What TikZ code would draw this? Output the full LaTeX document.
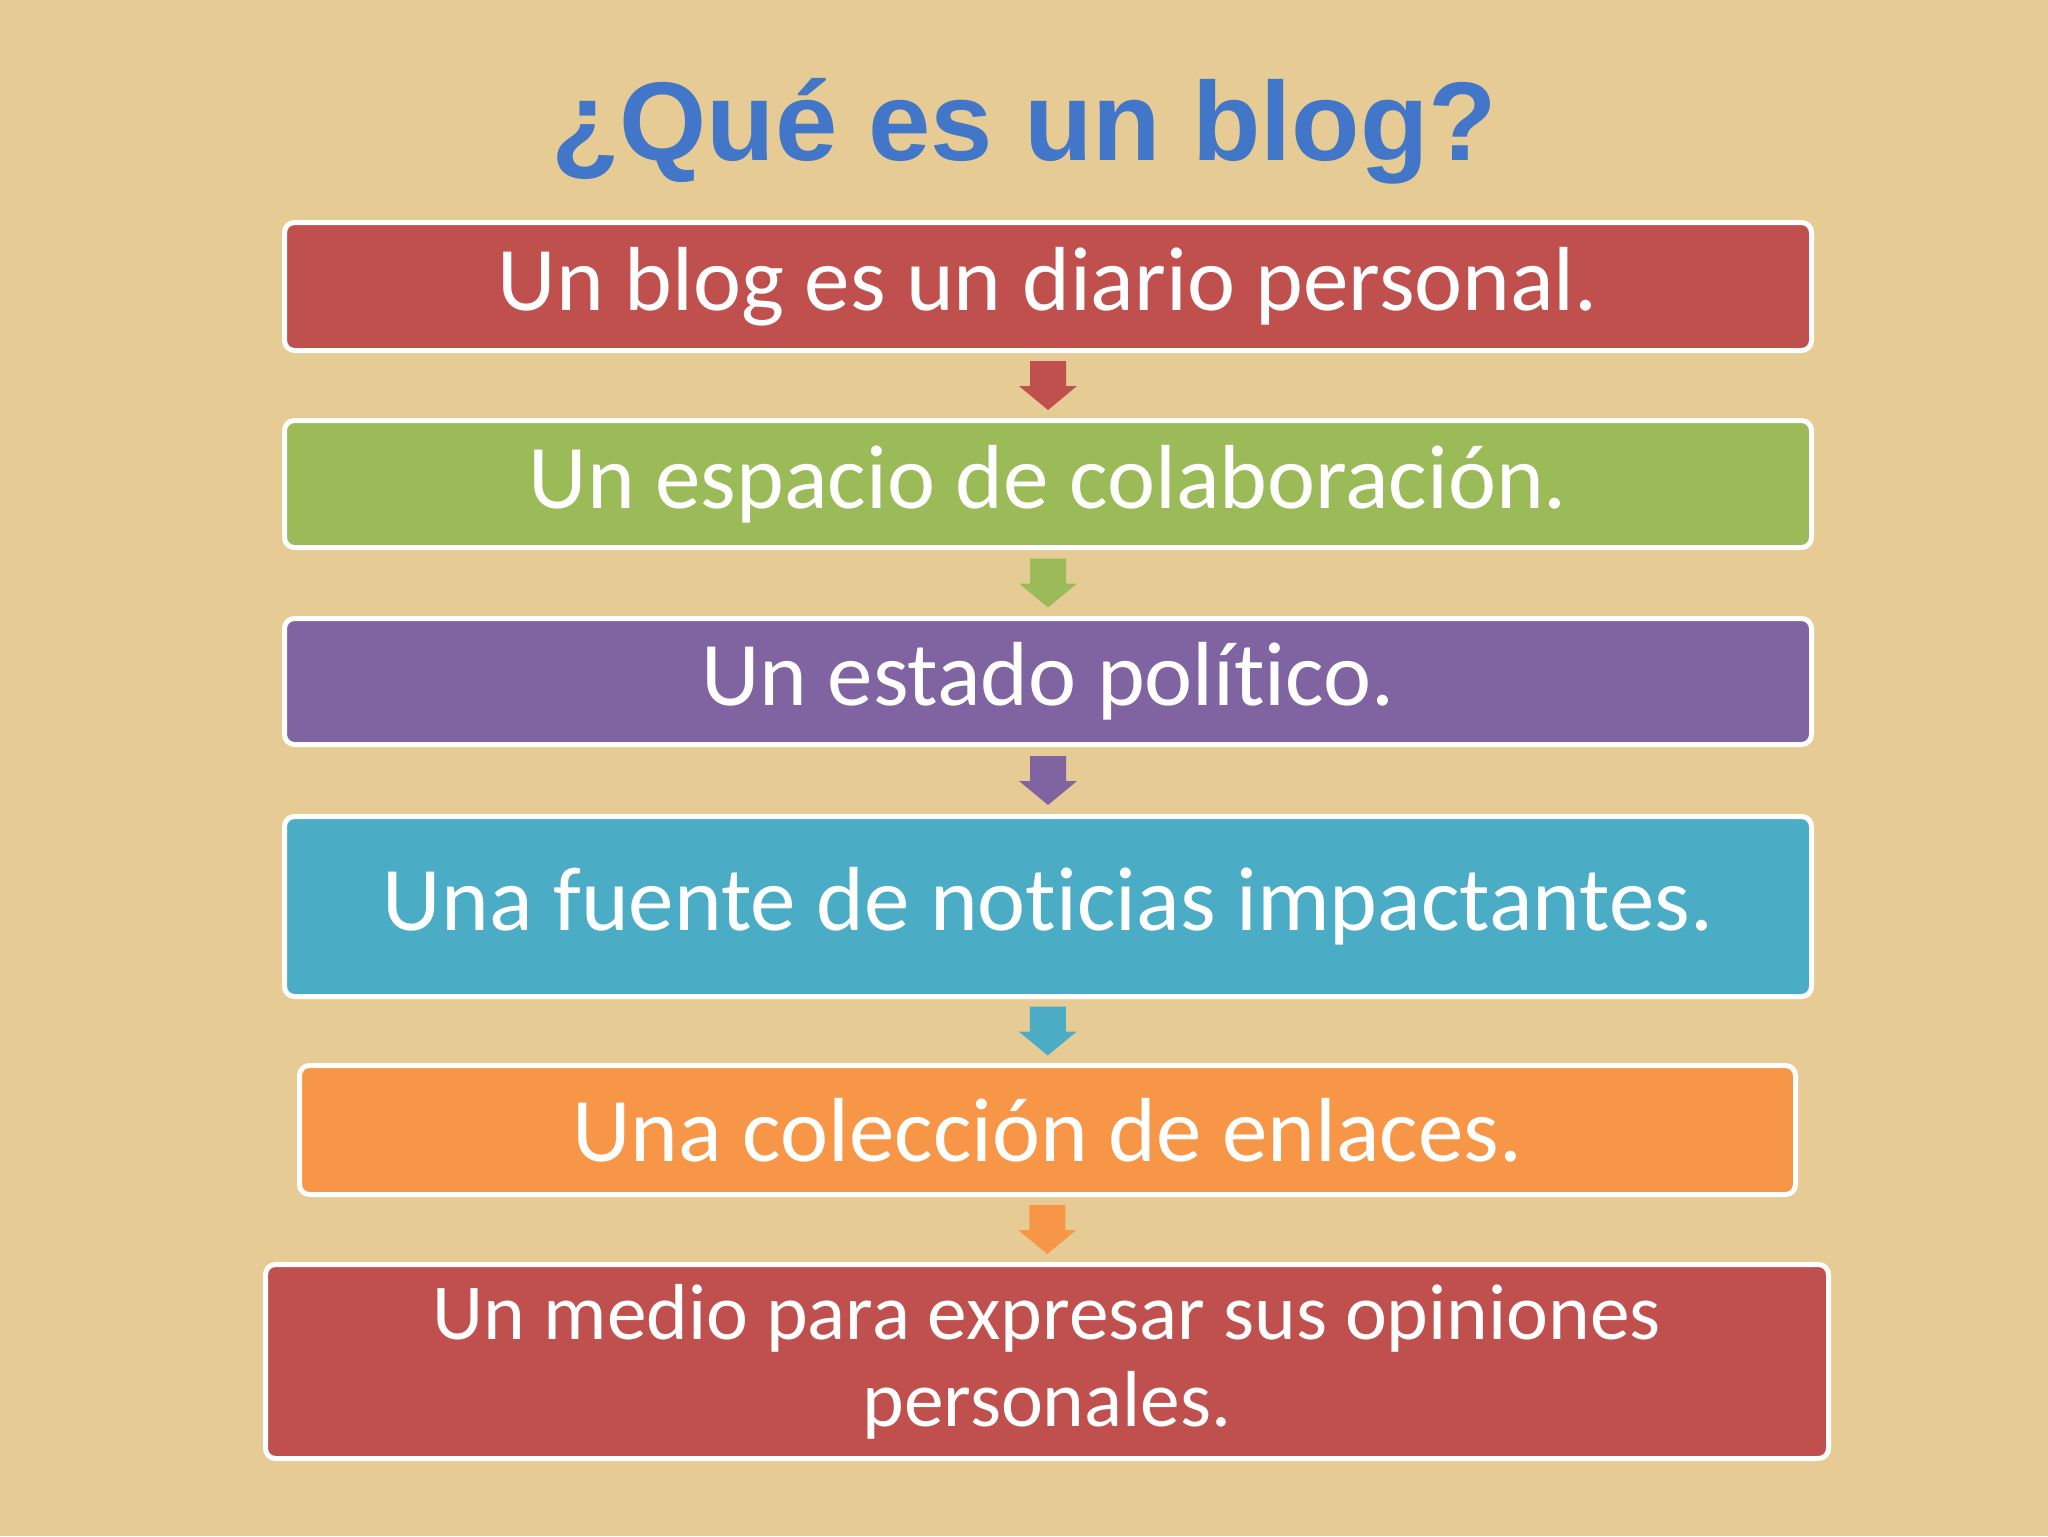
\documentclass[tikz,border=0pt]{standalone}
\usepackage{fontspec}
\usepackage{tikz}
\usetikzlibrary{calc}
\newfontfamily\cuerpo[Ligatures=NoCommon]{Carlito}
\newfontfamily\titular{Liberation Sans}

\definecolor{fondo}{RGB}{230,204,148}
\definecolor{rojo}{HTML}{C0504D}
\definecolor{verde}{HTML}{9BBB59}
\definecolor{morado}{HTML}{8064A2}
\definecolor{azul}{HTML}{4BACC6}
\definecolor{naranja}{HTML}{F79646}
\definecolor{tituloazul}{RGB}{66,118,200}

\tikzset{
  caja/.style={draw=white, line width=2.5pt, rounded corners=5pt, text=white, inner sep=0pt,
    align=center, font=\cuerpo\fontsize{45.5pt}{54pt}\selectfont},
}

\begin{document}
\begin{tikzpicture}[x=0.5pt,y=0.5pt,yscale=-1,xscale=1]
%set diagram left start at 0, and has height of 1536
\fill[fondo] (0,0) rectangle (2048,1536);
\useasboundingbox (0,0) rectangle (2048,1536);

% Text Node
\node (titulo) [anchor=base, text=tituloazul, font=\titular\bfseries\fontsize{56pt}{60pt}\selectfont] at (1024,160) {¿Qué es un blog?};

%Shape: Boxes
\node (b1) [caja, fill=rojo, minimum width=763.5pt, minimum height=64pt] at (1048,286.5) {Un blog es un diario personal.};
\node (b2) [caja, fill=verde, minimum width=763.5pt, minimum height=63.5pt] at (1048,484) {Un espacio de colaboración.};
\node (b3) [caja, fill=morado, minimum width=763.5pt, minimum height=63pt] at (1048,681.5) {Un estado político.};
\node (b4) [caja, fill=azul, minimum width=763.5pt, minimum height=90pt] at (1048,906.5) {Una fuente de noticias impactantes.};
\node (b5) [caja, fill=naranja, minimum width=748pt, minimum height=64.5pt] at (1047.5,1130) {Una colección de enlaces.};
\node (b6) [caja, fill=rojo, minimum width=781.5pt, minimum height=97pt, font=\cuerpo\fontsize{39.7pt}{43.5pt}\selectfont] at (1047,1361.5) {Un medio para expresar sus opiniones\\personales.};

%Shape: Down arrows between boxes
\fill[rojo] ($(b1.south)!0.5!(b2.north)+(-18,-24.5)$) -- ++(36,0) -- ++(0,25) -- ++(11,0) -- ++(-29,24) -- ++(-29,-24) -- ++(11,0) -- cycle;
\fill[verde] ($(b2.south)!0.5!(b3.north)+(-18,-24.5)$) -- ++(36,0) -- ++(0,25) -- ++(11,0) -- ++(-29,24) -- ++(-29,-24) -- ++(11,0) -- cycle;
\fill[morado] ($(b3.south)!0.5!(b4.north)+(-18,-24.5)$) -- ++(36,0) -- ++(0,25) -- ++(11,0) -- ++(-29,24) -- ++(-29,-24) -- ++(11,0) -- cycle;
\fill[azul] ($(b4.south)!0.5!(b5.north)+(-18,-24.5)$) -- ++(36,0) -- ++(0,25) -- ++(11,0) -- ++(-29,24) -- ++(-29,-24) -- ++(11,0) -- cycle;
\fill[naranja] ($(b5.south)!0.5!(b6.north)+(-18,-24.5)$) -- ++(36,0) -- ++(0,25) -- ++(11,0) -- ++(-29,24) -- ++(-29,-24) -- ++(11,0) -- cycle;
\end{tikzpicture}
\end{document}
